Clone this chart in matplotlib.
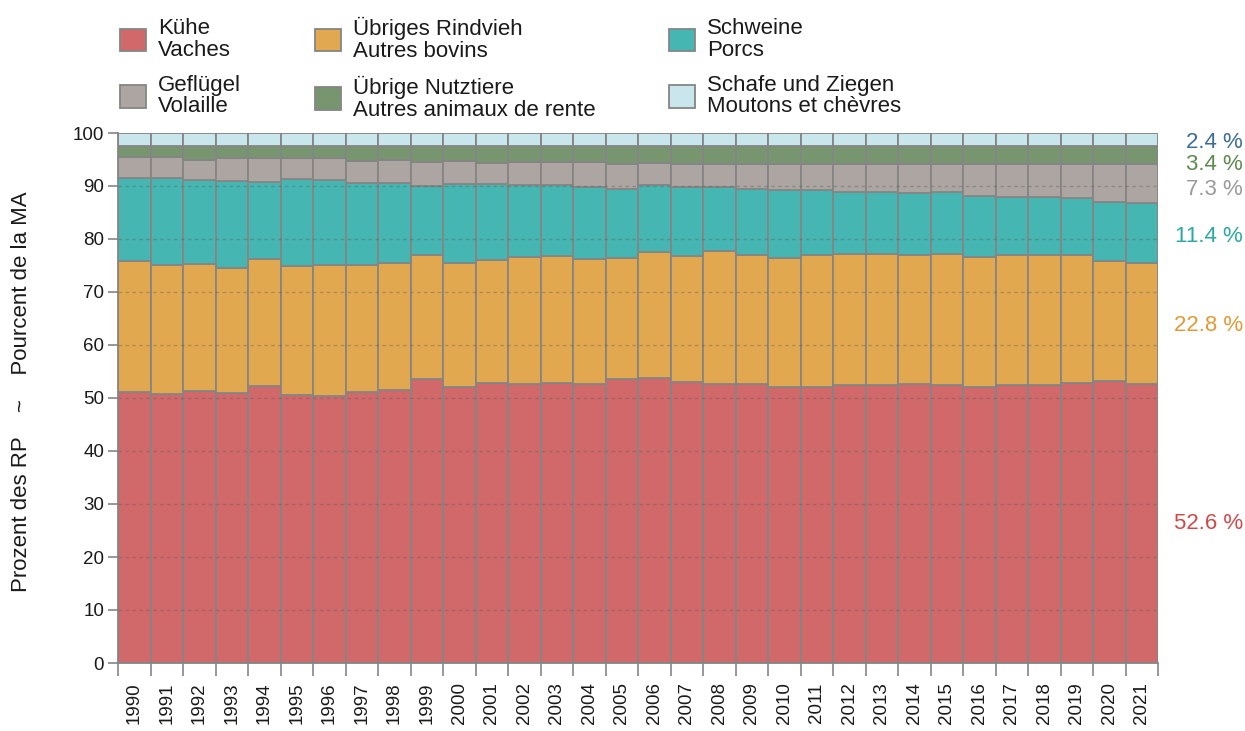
import matplotlib
matplotlib.use("Agg")
import matplotlib.pyplot as plt
from matplotlib.patches import Patch
from matplotlib.transforms import blended_transform_factory
import numpy as np

plt.rcParams['font.family'] = ['Liberation Sans', 'DejaVu Sans']

years = [str(y) for y in range(1990, 2022)]

kuehe = [51.1, 50.8, 51.3, 50.9, 52.2, 50.6, 50.3, 51.2, 51.6, 53.5, 52.0, 52.9, 52.7, 52.9, 52.7, 53.5,
         53.7, 53.0, 52.7, 52.7, 52.1, 52.1, 52.4, 52.5, 52.7, 52.4, 52.1, 52.4, 52.5, 52.9, 53.2, 52.6]
rindvieh = [24.8, 24.3, 24.0, 23.6, 24.0, 24.3, 24.8, 23.9, 23.8, 23.4, 23.4, 23.2, 23.9, 23.8, 23.5, 22.9,
            23.8, 23.8, 25.1, 24.3, 24.4, 24.8, 24.7, 24.7, 24.2, 24.8, 24.5, 24.5, 24.5, 24.1, 22.7, 22.8]
schweine = [15.6, 16.5, 15.8, 16.4, 14.6, 16.4, 16.0, 15.4, 15.2, 13.1, 15.0, 14.2, 13.6, 13.4, 13.7, 13.0,
            12.7, 13.0, 12.1, 12.4, 12.7, 12.3, 11.8, 11.7, 11.8, 11.6, 11.6, 11.1, 11.0, 10.7, 11.0, 11.4]
gefluegel = [3.9, 3.8, 3.9, 4.3, 4.4, 3.9, 4.1, 4.3, 4.3, 4.5, 4.3, 4.0, 4.3, 4.4, 4.6, 4.7,
             4.1, 4.4, 4.3, 4.8, 5.0, 5.0, 5.3, 5.3, 5.5, 5.4, 6.0, 6.2, 6.2, 6.5, 7.3, 7.3]
nutztiere = [2.2, 2.2, 2.6, 2.4, 2.4, 2.4, 2.4, 2.8, 2.7, 3.1, 2.9, 3.3, 3.1, 3.1, 3.1, 3.5,
             3.3, 3.4, 3.4, 3.4, 3.4, 3.4, 3.4, 3.4, 3.4, 3.4, 3.4, 3.4, 3.4, 3.4, 3.4, 3.4]
schafe = [2.4, 2.4, 2.4, 2.4, 2.4, 2.4, 2.4, 2.4, 2.4, 2.4, 2.4, 2.4, 2.4, 2.4, 2.4, 2.4,
          2.4, 2.4, 2.4, 2.4, 2.4, 2.4, 2.4, 2.4, 2.4, 2.4, 2.4, 2.4, 2.4, 2.4, 2.4, 2.5]

series = [kuehe, rindvieh, schweine, gefluegel, nutztiere, schafe]
labels = ["Kühe\nVaches", "Übriges Rindvieh\nAutres bovins", "Schweine\nPorcs",
          "Geflügel\nVolaille", "Übrige Nutztiere\nAutres animaux de rente",
          "Schafe und Ziegen\nMoutons et chèvres"]
colors = ["#D1696B", "#E2A84F", "#45B6B1", "#ADA5A2", "#779670", "#C9E6EC"]

end_labels = ["52.6 %", "22.8 %", "11.4 %", "7.3 %", "3.4 %", "2.4 %"]
end_colors = ["#D0494B", "#E09A35", "#2BA8A3", "#9A9A9A", "#5E8A50", "#3D6C98"]
end_y = [26.3, 63.7, 80.5, 89.4, 94.0, 98.3]

fig = plt.figure(figsize=(12.45, 7.31), dpi=100)
ax = fig.add_axes([118/1245, 1-663/731, (1158-118)/1245, (663-133)/731])

x = np.arange(len(years))
bottom = np.zeros(len(years))
handles = []
for vals, lab, col in zip(series, labels, colors):
    ax.bar(x, vals, bottom=bottom, width=1.0, color=col, edgecolor="#858585", linewidth=1.3, zorder=2)
    bottom += np.array(vals)
    handles.append(Patch(facecolor=col, edgecolor="#858585", linewidth=1.3, label=lab))

for yv in range(10, 100, 10):
    ax.axhline(yv, color="#555555", alpha=0.35, linestyle=(0, (2.5, 2.5)), linewidth=1.0, zorder=3)

ax.set_xlim(-0.5, len(years) - 0.5)
ax.set_ylim(0, 100)
ax.set_yticks(range(0, 101, 10))
ax.tick_params(axis='y', length=7, width=1.2, color="#858585", labelsize=13.5, labelcolor="#1a1a1a", pad=3)
ax.set_xticks(x)
ax.set_xticklabels(years, rotation=90, fontsize=13.5, color="#1a1a1a")
ax.tick_params(axis='x', length=0, pad=14)
ax.set_xticks(np.arange(-0.5, len(years), 1.0), minor=True)
ax.tick_params(axis='x', which='minor', length=9, width=1.2, color="#858585")

for s in ["top", "right"]:
    ax.spines[s].set_visible(False)
for s in ["left", "bottom"]:
    ax.spines[s].set_color("#858585")
    ax.spines[s].set_linewidth(1.3)

tr = blended_transform_factory(fig.transFigure, ax.transData)
for t, c, yv in zip(end_labels, end_colors, end_y):
    ax.text(1243/1245, yv, t, color=c, fontsize=16, ha="right", va="center", clip_on=False, transform=tr)

fig.text(22/1245, 1-392/731, "Prozent des RP    ~    Pourcent de la MA", rotation=90,
         ha="center", va="center", fontsize=16, color="#1a1a1a")

order = [0, 3, 1, 4, 2, 5]
leg = fig.legend([handles[i] for i in order], [labels[i] for i in order], ncol=3,
                 loc="upper left", bbox_to_anchor=(120/1245, 1-17/731), frameon=False,
                 fontsize=16, handlelength=1.17, handleheight=1.17, handletextpad=0.55,
                 columnspacing=3.3, labelspacing=0.62, borderpad=0, borderaxespad=0)
for txt in leg.get_texts():
    txt.set_color("#1a1a1a")
    txt.set_linespacing(1.05)

fig.savefig("out.png", dpi=100)
